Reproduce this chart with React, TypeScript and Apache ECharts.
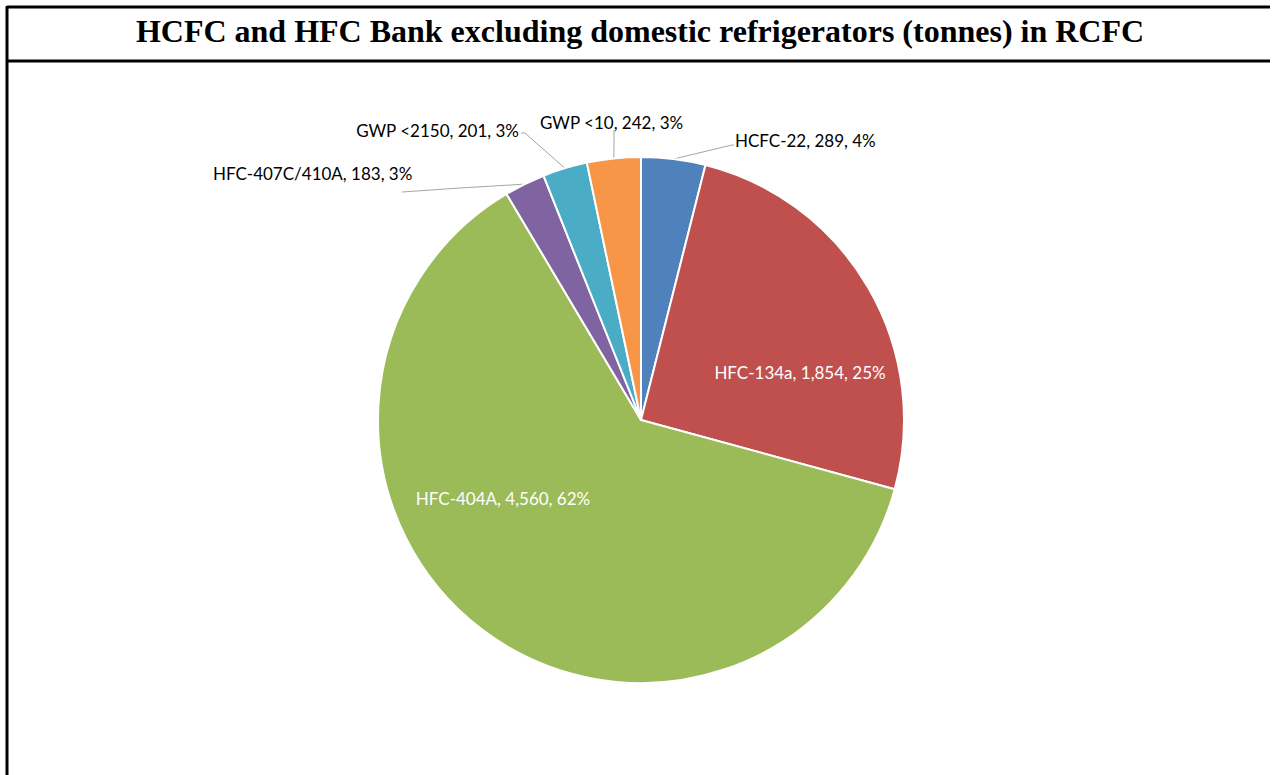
import React, { useEffect, useRef } from "react";
import * as echarts from "echarts";

const titleText = "HCFC and HFC Bank excluding domestic refrigerators (tonnes) in RCFC";
const categories = ["HCFC-22", "HFC-134a", "HFC-404A", "HFC-407C/410A", "GWP <2150", "GWP <10"];
const values = [289, 1854, 4560, 183, 201, 242];
const percents = [4, 25, 62, 3, 3, 3];
const colors = ["#4F81BD", "#C0504D", "#9BBB59", "#8064A2", "#4BACC6", "#F79646"];
const insideLabel = [false, true, true, false, false, false];

// label layout (pixel positions of label anchors and leader bends)
const labelPlaces = [
  { x: 735, y: 140, align: "left", bend: [[732, 145], [734, 145]] },
  { x: 800, y: 372, align: "center" },
  { x: 503, y: 498, align: "center" },
  { x: 213, y: 173, align: "left", bend: [[460, 188], [402, 192]] },
  { x: 519, y: 130, align: "right", bend: [[525, 133], [521, 133]] },
  { x: 540, y: 122, align: "left", bend: [[614, 143], [614, 130]] },
];

export default function App() {
  const ref = useRef<HTMLDivElement>(null);
  useEffect(() => {
    if (!ref.current) return;
    const chart = echarts.init(ref.current, null, { renderer: "svg" });
    const data = categories.map((name, i) => ({
      name,
      value: values[i],
      itemStyle: { color: colors[i] },
      label: insideLabel[i]
        ? { position: "inside", color: "#FFFFFF" }
        : { position: "outside", color: "#000000" },
      labelLine: { show: !insideLabel[i] },
    }));
    chart.setOption({
      animation: false,
      backgroundColor: "#FFFFFF",
      graphic: [
        {
          type: "line",
          shape: { x1: 7, y1: 7, x2: 1270, y2: 7 },
          style: { stroke: "#000", lineWidth: 3 },
        },
        {
          type: "line",
          shape: { x1: 7, y1: 61, x2: 1270, y2: 61 },
          style: { stroke: "#000", lineWidth: 3 },
        },
        {
          type: "line",
          shape: { x1: 7, y1: 6, x2: 7, y2: 780 },
          style: { stroke: "#000", lineWidth: 3 },
        },
        {
          type: "text",
          x: 640,
          y: 31,
          style: {
            text: titleText,
            font: 'bold 32px "Liberation Serif", "Times New Roman", serif',
            fill: "#000",
            align: "center",
            verticalAlign: "middle",
          },
        },
      ],
      series: [
        {
          type: "pie",
          center: [641, 420],
          radius: 263,
          startAngle: 90,
          clockwise: true,
          avoidLabelOverlap: false,
          itemStyle: { borderColor: "#FFFFFF", borderWidth: 2 },
          label: {
            show: true,
            fontFamily: "Lato",
            fontSize: 17,
            formatter: (p: any) =>
              `${p.name}, ${Number(p.value).toLocaleString("en-US")}, ${percents[p.dataIndex]}%`,
          },
          labelLine: {
            show: true,
            length: 20,
            length2: 10,
            lineStyle: { color: "#A6A6A6", width: 1 },
          },
          labelLayout: (params: any) => {
            const pl = labelPlaces[params.dataIndex];
            const out: any = { x: pl.x, y: pl.y, align: pl.align, verticalAlign: "middle" };
            if (pl.bend && params.labelLinePoints) {
              out.labelLinePoints = [params.labelLinePoints[0], pl.bend[0], pl.bend[1]];
            }
            return out;
          },
          emphasis: { disabled: true },
          data,
        },
      ],
    });
    return () => chart.dispose();
  }, []);
  return (
    <div
      ref={ref}
      style={{ position: "fixed", left: 0, top: 0, width: 1274, height: 775, background: "#fff" }}
    />
  );
}
